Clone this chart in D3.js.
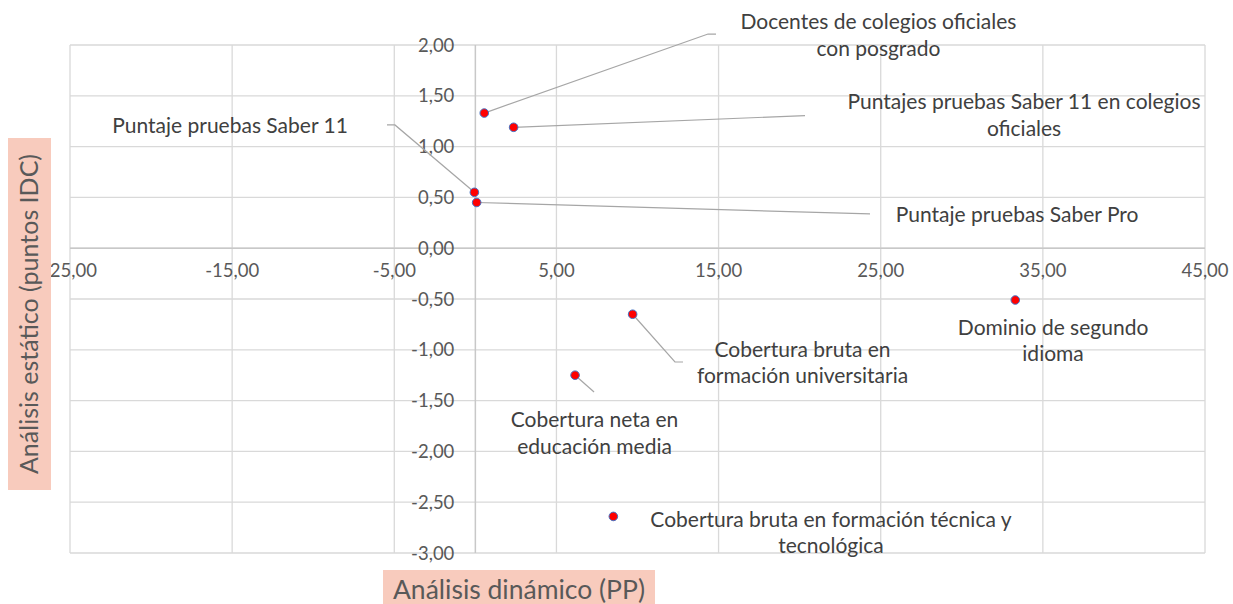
<!DOCTYPE html>
<html><head><meta charset="utf-8">
<script src="https://cdn.jsdelivr.net/npm/d3@7/dist/d3.min.js"></script>
<style>
html,body{margin:0;padding:0;background:#fff;}
text{font-family:Lato,"Open Sans",sans-serif;}
</style></head>
<body><svg id="c" width="1233" height="604"></svg>
<script>
// ---- data ----
const names = [
  ["Docentes de colegios oficiales","con posgrado"],
  ["Puntajes pruebas Saber 11 en colegios","oficiales"],
  ["Puntaje pruebas Saber 11"],
  ["Puntaje pruebas Saber Pro"],
  ["Cobertura bruta en","formación universitaria"],
  ["Cobertura neta en","educación media"],
  ["Cobertura bruta en formación técnica y","tecnológica"],
  ["Dominio de segundo","idioma"]
];
const dynamicPP = [0.55, 2.36, -0.06, 0.08, 9.70, 6.15, 8.51, 33.3];
const staticIDC = [1.33, 1.19, 0.55, 0.45, -0.65, -1.25, -2.64, -0.51];
const xTicks = [-25, -15, -5, 5, 15, 25, 35, 45];
const yTicks = [2, 1.5, 1, 0.5, 0, -0.5, -1, -1.5, -2, -2.5, -3];
// label anchors (data units): center x, first-line baseline y
const labelX = [24.86, 33.84, -15.13, 33.41, 20.18, 7.35, 21.93, 35.63];
const labelY = [2.157, 1.37, 1.134, 0.261, -1.068, -1.76, -2.744, -0.854];
// leader line bends (data units)
const leaders = [
  [[14.35, 2.108], [14.84, 2.108]],
  [[20.33, 1.305]],
  [[-4.96, 1.213], [-5.45, 1.213]],
  [[24.34, 0.337]],
  [[12.31, -1.12], [12.81, -1.12]],
  [[7.32, -1.415]],
  [],
  []
];
const xTitle = "Análisis dinámico (PP)";
const yTitle = "Análisis estático (puntos IDC)";

// ---- drawing ----
const svg = d3.select("#c");
const L = 70, R = 1205, T = 45, B = 553;
const x = d3.scaleLinear().domain([-25, 45]).range([L, R]);
const y = d3.scaleLinear().domain([-3, 2]).range([B, T]);
const fmt = v => d3.format(".2f")(v).replace(".", ",").replace("−", "-");

svg.append("rect").attr("width",1233).attr("height",604).attr("fill","#fff");

// grid
svg.append("g").selectAll("line").data(yTicks).join("line")
  .attr("x1", L).attr("x2", R).attr("y1", d => y(d)).attr("y2", d => y(d))
  .attr("stroke", "#d9d9d9").attr("stroke-width", 1.3);
svg.append("g").selectAll("line").data(xTicks).join("line")
  .attr("x1", d => x(d)).attr("x2", d => x(d)).attr("y1", T).attr("y2", B)
  .attr("stroke", "#d9d9d9").attr("stroke-width", 1.3);

// axes lines
svg.append("line").attr("x1", L).attr("x2", R).attr("y1", y(0)).attr("y2", y(0))
  .attr("stroke", "#c8c8c8").attr("stroke-width", 1.5);
svg.append("line").attr("x1", x(0)).attr("x2", x(0)).attr("y1", T).attr("y2", B)
  .attr("stroke", "#c8c8c8").attr("stroke-width", 1.5);

// tick labels
svg.append("g").selectAll("text").data(yTicks).join("text")
  .attr("x", x(0) - 21).attr("y", d => y(d)).attr("dy", "0.36em")
  .attr("text-anchor", "end").attr("font-size", 18.5).attr("fill", "#595959")
  .text(fmt);
svg.append("g").selectAll("text").data(xTicks).join("text")
  .attr("x", d => x(d)).attr("y", y(0) + 22).attr("dy", "0.36em")
  .attr("text-anchor", "middle").attr("font-size", 18.5).attr("fill", "#595959")
  .text(fmt);

// leader lines
const pts = dynamicPP.map((d, i) => [d, staticIDC[i]]);
const lineGen = d3.line().x(d => x(d[0])).y(d => y(d[1]));
svg.append("g").selectAll("path").data(pts.map((p, i) => [p, ...leaders[i]]).filter(a => a.length > 1))
  .join("path").attr("d", lineGen).attr("fill", "none")
  .attr("stroke", "#a6a6a6").attr("stroke-width", 1.2);

// points
svg.append("g").selectAll("circle").data(pts).join("circle")
  .attr("cx", d => x(d[0])).attr("cy", d => y(d[1])).attr("r", 4.3)
  .attr("fill", "#ff0000").attr("stroke", "#4472c4").attr("stroke-width", 1);

// labels
const lg = svg.append("g");
names.forEach((lines, i) => {
  lines.forEach((t, j) => {
    lg.append("text")
      .attr("x", x(labelX[i]))
      .attr("y", y(labelY[i]) + j * 26.5)
      .attr("text-anchor", "middle").attr("font-size", 21).attr("fill", "#404040")
      .text(t);
  });
});

// axis titles
const xt = svg.append("g");
xt.append("rect").attr("x", 383).attr("y", 570).attr("width", 272).attr("height", 34).attr("fill", "#f8cbbd");
xt.append("text").attr("x", 519).attr("y", 599).attr("text-anchor", "middle")
  .attr("font-size", 26.5).attr("fill", "#595959").text(xTitle);
const yt = svg.append("g");
yt.append("rect").attr("x", 8).attr("y", 138).attr("width", 43).attr("height", 352).attr("fill", "#f8cbbd");
yt.append("text").attr("transform", "translate(38,314) rotate(-90)").attr("text-anchor", "middle")
  .attr("font-size", 25).attr("fill", "#595959").text(yTitle);
</script></body></html>
